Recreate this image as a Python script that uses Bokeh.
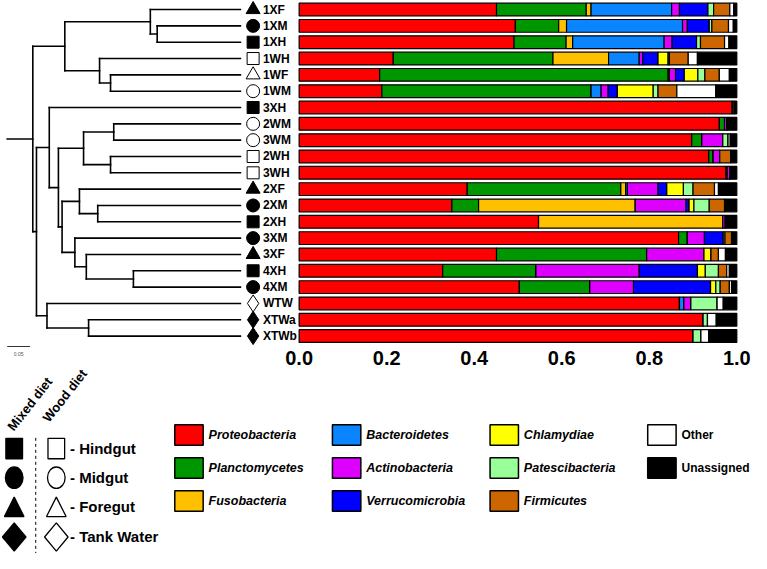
import math
from bokeh.plotting import figure
from bokeh.models import ColumnDataSource, Range1d
from bokeh.core.properties import value
from bokeh.embed import file_html
from bokeh.resources import INLINE

# ---------------- data ----------------
samples = ["1XF", "1XM", "1XH", "1WH", "1WF", "1WM", "3XH", "2WM", "3WM", "2WH", "3WH",
           "2XF", "2XM", "2XH", "3XM", "3XF", "4XH", "4XM", "WTW", "XTWa", "XTWb"]

phyla = ["Proteobacteria", "Planctomycetes", "Fusobacteria", "Bacteroidetes", "Actinobacteria",
         "Verrucomicrobia", "Chlamydiae", "Patescibacteria", "Firmicutes", "Other", "Unassigned"]
phyla_colors = ["#FF0000", "#009600", "#FFC000", "#0A84FF", "#DD00FF",
                "#0000FF", "#FFFF00", "#99FF99", "#CC6600", "#FFFFFF", "#000000"]

proteobacteria = [.451, .494, .491, .215, .184, .189, .990, .960, .897, .936, .975,
                  .384, .349, .547, .867, .451, .328, .503, .869, .923, .900]
planctomycetes = [.205, .099, .119, .365, .659, .478, 0, .012, .023, .010, .003,
                  .351, .061, 0, .020, .343, .213, .161, 0, 0, 0]
fusobacteria = [.011, .018, .015, .127, .003, 0, 0, 0, 0, 0, 0,
                .011, .358, .421, 0, 0, 0, 0, 0, 0, 0]
bacteroidetes = [.184, .265, .209, .070, 0, .023, 0, 0, 0, 0, 0,
                 .004, 0, 0, 0, 0, 0, 0, .010, 0, 0]
actinobacteria = [.018, .011, .018, .008, .014, .016, 0, .006, .048, .015, .006,
                  .070, .116, .006, .039, .131, .236, .100, .016, 0, 0]
verrucomicrobia = [.065, .050, .056, .035, .020, .021, 0, 0, 0, 0, 0,
                   .020, .007, 0, .043, 0, .133, .176, 0, 0, 0]
chlamydiae = [0, 0, 0, .023, .031, .082, 0, 0, 0, 0, 0,
              .038, .011, 0, 0, .016, .018, .012, 0, 0, 0]
patescibacteria = [.013, .006, .009, .003, .016, .011, 0, 0, .012, 0, 0,
                   .022, .035, 0, .004, 0, .030, .010, .060, .010, .018]
firmicutes = [.037, .038, .055, .043, .033, .043, .004, 0, 0, .025, 0,
              .049, .035, 0, .015, .017, .019, .021, 0, 0, 0]
other = [.009, .011, .010, .021, .023, .089, 0, 0, .005, 0, 0,
         .009, 0, 0, 0, .016, .006, .005, .014, .020, .018]
unassigned = [.007, .008, .018, .090, .017, .048, .006, .022, .015, .014, .016,
              .042, .028, .026, .012, .026, .017, .012, .031, .047, .064]

tick_values = [0.0, 0.2, 0.4, 0.6, 0.8, 1.0]
tick_labels = ["0.0", "0.2", "0.4", "0.6", "0.8", "1.0"]

# dendrogram: (node, child1, child2, node depth from root)
tree_merges = [
    ("n1XMH", "1XM", "1XH", 0.272),
    ("n1X", "1XF", "n1XMH", 0.257),
    ("n1WFM", "1WF", "1WM", 0.170),
    ("n1W", "1WH", "n1WFM", 0.146),
    ("nA", "n1X", "n1W", 0.070),
    ("nWM", "2WM", "3WM", 0.177),
    ("nWH", "2WH", "3WH", 0.170),
    ("nE", "nWM", "nWH", 0.111),
    ("n2XMH", "2XM", "2XH", 0.142),
    ("nG", "2XF", "n2XMH", 0.102),
    ("n4X", "4XH", "4XM", 0.220),
    ("nI", "3XF", "n4X", 0.117),
    ("nH", "3XM", "nI", 0.092),
    ("nF", "nG", "nH", 0.064),
    ("nD", "nE", "nF", 0.056),
    ("nC", "3XH", "nD", 0.036),
    ("nXTW", "XTWa", "XTWb", 0.122),
    ("nW", "WTW", "nXTW", 0.031),
    ("nB", "nC", "nW", 0.008),
    ("root", "nA", "nB", 0.0),
]
leaf_depth = 0.454
root_branch = 0.056
scale_bar_length = 0.05

diet_labels = ["Mixed diet", "Wood diet"]
gut_labels = ["Hindgut", "Midgut", "Foregut", "Tank Water"]

# ---------------- layout constants (reference pixel space) ----------------
W, H = 751, 553
REF_W, REF_H = 767, 569
ROW0, PITCH = 9.3, 16.8
BAR_X0, BAR_W = 305.0, 447.0
TREE_X0, TREE_SCALE = 33.0, 467.0

SANS = "Liberation Sans"

p = figure(width=W, height=H, output_backend="svg", toolbar_location=None,
           x_range=Range1d(-BAR_X0 / BAR_W, (REF_W - BAR_X0) / BAR_W),
           y_range=Range1d((REF_H - ROW0) / PITCH, -ROW0 / PITCH),
           x_axis_location=None, y_axis_location=None, min_border=0)
p.extra_x_ranges = {"px": Range1d(0, REF_W),
                    "tree": Range1d(-TREE_X0 / TREE_SCALE, (REF_W - TREE_X0) / TREE_SCALE)}
p.extra_y_ranges = {"py": Range1d(REF_H, 0)}
p.grid.visible = False
p.outline_line_color = None
p.background_fill_color = "white"
p.border_fill_color = "white"

# ---------------- stacked bars ----------------
rows = list(range(len(samples)))
data = {"row": rows}
for name, vals in zip(phyla, [proteobacteria, planctomycetes, fusobacteria, bacteroidetes,
                              actinobacteria, verrucomicrobia, chlamydiae, patescibacteria,
                              firmicutes, other, unassigned]):
    data[name] = vals
src = ColumnDataSource(data)
p.hbar_stack(phyla, y="row", height=0.78, fill_color=phyla_colors, line_color="black",
             line_width=1.2, source=src)

# tick labels (through the bar x-scale)
tick_row = (368.0 - ROW0) / PITCH
p.text(x=tick_values, y=[tick_row] * len(tick_values), text=tick_labels,
       text_font=value(SANS), text_font_style="bold", text_font_size="20px",
       text_align="center", text_baseline="middle", text_color="black")

# ---------------- dendrogram ----------------
node_x = {s: leaf_depth for s in samples}
node_y = {s: i for i, s in enumerate(samples)}
x0s, y0s, x1s, y1s = [], [], [], []
for node, a, b, d in tree_merges:
    node_x[node] = d
    node_y[node] = (node_y[a] + node_y[b]) / 2.0
    x0s.append(d); y0s.append(node_y[a]); x1s.append(d); y1s.append(node_y[b])
    for c in (a, b):
        x0s.append(d); y0s.append(node_y[c]); x1s.append(node_x[c]); y1s.append(node_y[c])
x0s.append(node_x["root"] - root_branch); y0s.append(node_y["root"])
x1s.append(node_x["root"]); y1s.append(node_y["root"])
p.segment(x0=x0s, y0=y0s, x1=x1s, y1=y1s, x_range_name="tree",
          line_color="black", line_width=1.6, line_cap="square")

# scale bar
sb_row = (356.0 - ROW0) / PITCH
sb_x0 = node_x["root"] - root_branch
p.segment(x0=[sb_x0], y0=[sb_row], x1=[sb_x0 + scale_bar_length], y1=[sb_row],
          x_range_name="tree", line_color="black", line_width=0.8)
p.text(x=[sb_x0 + scale_bar_length / 2], y=[(363.5 - ROW0) / PITCH], text=["0.05"],
       x_range_name="tree", text_font=value(SANS), text_font_size="5px",
       text_align="center", text_baseline="middle", text_color="#555555")

# leaf markers + labels
def shape_of(s):
    if "TW" in s:
        return "diamond"
    return {"H": "square", "M": "circle", "F": "triangle"}[s[-1]]

markers = [shape_of(s) for s in samples]
fills = ["black" if "X" in s else "white" for s in samples]
sizes = [{"square": 12, "circle": 13, "triangle": 14, "diamond": 17}[m] for m in markers]
msrc = ColumnDataSource(dict(x=[258] * len(samples), y=rows, marker=markers, fill=fills, size=sizes))
p.scatter(x="x", y="y", marker="marker", size="size", fill_color="fill", line_color="black",
          line_width=1.0, source=msrc, x_range_name="px")
p.text(x=[268] * len(samples), y=rows, text=samples, x_range_name="px",
       text_font=value(SANS), text_font_style="bold", text_font_size="12px",
       text_align="left", text_baseline="middle", text_color="black")

# ---------------- diet / gut-region legend ----------------
rowy = [461, 491, 521, 552]
col_filled, col_open = 14, 57
sw, sh = 17, 21
for cx, fill in ((col_filled, "black"), (col_open, "white")):
    lw = 1.3
    p.rect(x=[cx], y=[rowy[0]], width=sw, height=sh, fill_color=fill, line_color="black",
           line_width=lw, x_range_name="px", y_range_name="py")
    p.ellipse(x=[cx], y=[rowy[1]], width=sw + 1, height=sh + 1, fill_color=fill,
              line_color="black", line_width=lw, x_range_name="px", y_range_name="py")
    tw, th = 20, 20
    p.patch(x=[cx, cx - tw / 2, cx + tw / 2], y=[rowy[2] - th / 2, rowy[2] + th / 2, rowy[2] + th / 2],
            fill_color=fill, line_color="black", line_width=lw, x_range_name="px", y_range_name="py")
    dw, dh = 24, 29
    p.patch(x=[cx, cx + dw / 2, cx, cx - dw / 2],
            y=[rowy[3] - dh / 2, rowy[3], rowy[3] + dh / 2, rowy[3]],
            fill_color=fill, line_color="black", line_width=lw, x_range_name="px", y_range_name="py")

p.segment(x0=[36], y0=[450], x1=[36], y1=[569], line_color="black", line_width=1,
          line_dash="3 3", x_range_name="px", y_range_name="py")
p.text(x=[71] * 4, y=rowy, text=["- " + g for g in gut_labels], x_range_name="px", y_range_name="py",
       text_font=value(SANS), text_font_style="bold", text_font_size="15px",
       text_align="left", text_baseline="middle", text_color="black")
p.text(x=[10, 46], y=[441, 432], text=diet_labels, angle=math.radians(52),
       x_range_name="px", y_range_name="py",
       text_font=value(SANS), text_font_style="bold", text_font_size="13px",
       text_align="left", text_baseline="alphabetic", text_color="black")

# ---------------- phylum legend ----------------
cols = [i // 3 for i in range(len(phyla))]
prow = [i % 3 for i in range(len(phyla))]
sx = [192.5 + 161 * c for c in cols]
sy = [447 + 34 * r for r in prow]
p.rect(x=sx, y=sy, width=29, height=21, fill_color=phyla_colors, line_color="black",
       line_width=1.5, x_range_name="px", y_range_name="py")
italic = [nm not in ("Other", "Unassigned") for nm in phyla]
for ital in (True, False):
    idx = [i for i in range(len(phyla)) if italic[i] == ital]
    p.text(x=[sx[i] + 20 for i in idx], y=[sy[i] for i in idx], text=[phyla[i] for i in idx],
           x_range_name="px", y_range_name="py",
           text_font=value(SANS), text_font_style="bold italic" if ital else "bold",
           text_font_size="12.5px" if ital else "12px",
           text_align="left", text_baseline="middle", text_color="black")

open("out.html", "w").write(file_html(p, INLINE))
